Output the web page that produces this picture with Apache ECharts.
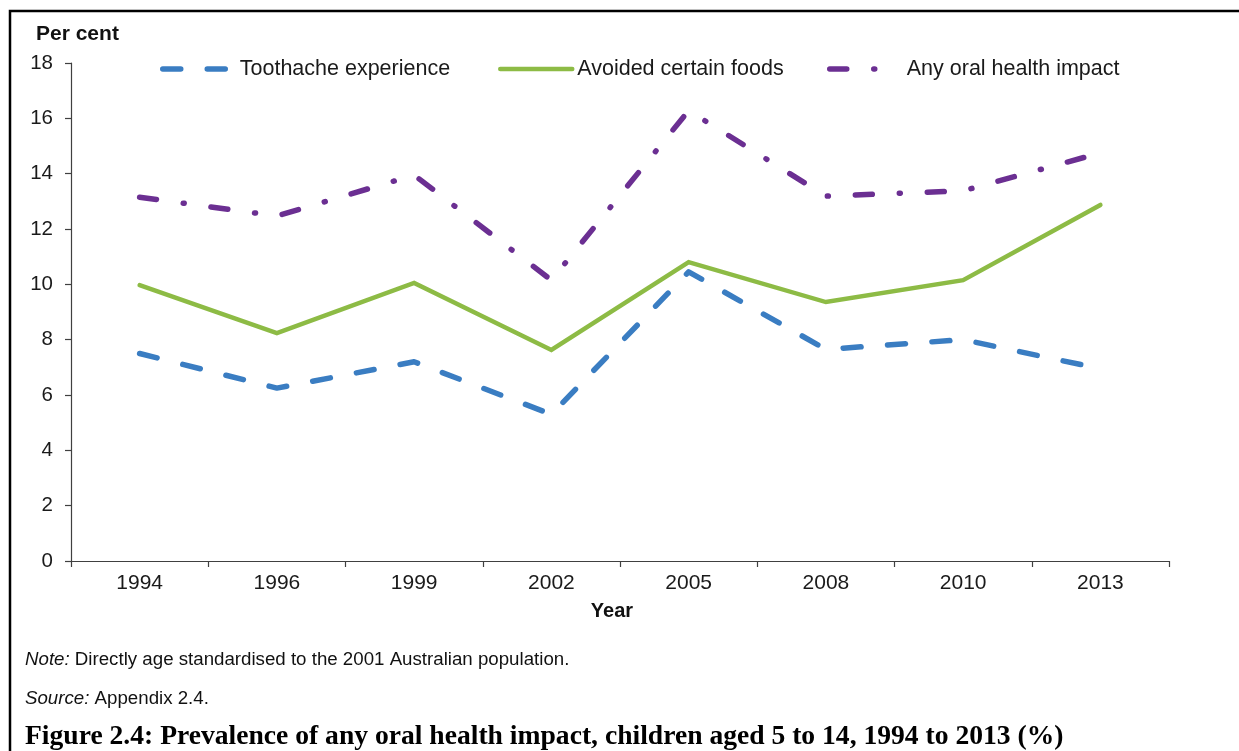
<!DOCTYPE html>
<html>
<head>
<meta charset="utf-8">
<script src="https://cdn.jsdelivr.net/npm/echarts@6/dist/echarts.min.js"></script>
<style>
html,body{margin:0;padding:0;background:#fff;}
#chart{width:1239px;height:751px;}
</style>
</head>
<body>
<div id="chart"></div>
<script>
const categories = ['1994', '1996', '1999', '2002', '2005', '2008', '2010', '2013'];
const toothache = [7.5, 6.25, 7.2, 5.3, 10.45, 7.65, 8.0, 6.95];
const avoidedFoods = [9.97, 8.24, 10.05, 7.63, 10.8, 9.36, 10.15, 12.87];
const anyImpact = [13.15, 12.47, 13.95, 10.15, 16.28, 13.19, 13.38, 14.75];
const yTicks = [0, 2, 4, 6, 8, 10, 12, 14, 16, 18];
const seriesNames = ['Toothache experience', 'Avoided certain foods', 'Any oral health impact'];

const SANS = '"Liberation Sans", Arial, sans-serif';
const BLUE = '#3a7dc2', GREEN = '#8dbb45', PURPLE = '#6b2f92';
const DASH_BLUE = [18, 26.5], DASH_PURPLE = [17, 27, 1, 27];
const chart = echarts.init(document.getElementById('chart'));

function legend(name, left, color, width, type) {
  return {
    data: [name], left: left, top: 58, itemWidth: 72, itemHeight: 14, itemGap: 0, padding: 0,
    textStyle: { fontFamily: SANS, fontSize: 21.5, color: '#1a1a1a' },
    itemStyle: { opacity: 0 },
    lineStyle: { color: color, width: width, type: type, cap: 'round' }
  };
}

chart.setOption({
  animation: false,
  backgroundColor: '#fff',
  title: [
    { text: '{i|Note:} Directly age standardised to the 2001 Australian population.', left: 20, top: 645,
      textStyle: { fontFamily: SANS, fontSize: 18.7, fontWeight: 'normal', color: '#111',
        rich: { i: { fontFamily: SANS, fontSize: 18.7, fontStyle: 'italic', color: '#111' } } } },
    { text: '{i|Source:} Appendix 2.4.', left: 20, top: 684,
      textStyle: { fontFamily: SANS, fontSize: 18.7, fontWeight: 'normal', color: '#111',
        rich: { i: { fontFamily: SANS, fontSize: 18.7, fontStyle: 'italic', color: '#111' } } } },
    { text: 'Figure 2.4: Prevalence of any oral health impact, children aged 5 to 14, 1994 to 2013 (%)', left: 20, top: 718,
      textStyle: { fontFamily: '"Liberation Serif", "DejaVu Serif", serif', fontSize: 27.6, fontWeight: 'bold', color: '#000' } }
  ],
  legend: [
    legend(seriesNames[0], 160, BLUE, 5.5, DASH_BLUE),
    legend(seriesNames[1], 498, GREEN, 4.5, 'solid'),
    legend(seriesNames[2], 827, PURPLE, 5.5, DASH_PURPLE)
  ],
  graphic: [
    { type: 'rect', shape: { x: 10, y: 11, width: 1400, height: 900 }, style: { fill: 'none', stroke: '#000', lineWidth: 2.5 }, silent: true },
    { type: 'text', left: 36, top: 24, style: { text: 'Per cent', font: 'bold 21px "Liberation Sans", Arial, sans-serif', fill: '#111' } }
  ],
  grid: { left: 71, right: 70, top: 63, bottom: 190, containLabel: false },
  xAxis: {
    type: 'category', data: categories, boundaryGap: true,
    name: 'Year', nameLocation: 'middle', nameGap: 40,
    nameTextStyle: { fontFamily: SANS, fontSize: 20, fontWeight: 'bold', color: '#111', padding: [0, 16, 0, 0] },
    axisLine: { lineStyle: { color: '#404040', width: 1.2 } },
    axisTick: { show: true, alignWithLabel: false, length: 6, lineStyle: { color: '#404040', width: 1.2 } },
    axisLabel: { fontFamily: SANS, fontSize: 21, color: '#1a1a1a', margin: 12 },
    splitLine: { show: false }
  },
  yAxis: {
    type: 'value', min: yTicks[0], max: yTicks[yTicks.length - 1], interval: yTicks[1] - yTicks[0],
    axisLine: { show: true, lineStyle: { color: '#404040', width: 1.2 } },
    axisTick: { show: true, length: 6, lineStyle: { color: '#404040', width: 1.2 } },
    axisLabel: { fontFamily: SANS, fontSize: 20.5, color: '#1a1a1a', margin: 18 },
    splitLine: { show: false }
  },
  series: [
    { name: seriesNames[0], type: 'line', data: toothache, symbol: 'none', color: BLUE,
      lineStyle: { color: BLUE, width: 5.5, type: DASH_BLUE, cap: 'round', join: 'round' } },
    { name: seriesNames[1], type: 'line', data: avoidedFoods, symbol: 'none', color: GREEN,
      lineStyle: { color: GREEN, width: 4.5, type: 'solid', cap: 'round', join: 'miter' } },
    { name: seriesNames[2], type: 'line', data: anyImpact, symbol: 'none', color: PURPLE,
      lineStyle: { color: PURPLE, width: 5.5, type: DASH_PURPLE, cap: 'round', join: 'round' } }
  ]
});
</script>
</body>
</html>
